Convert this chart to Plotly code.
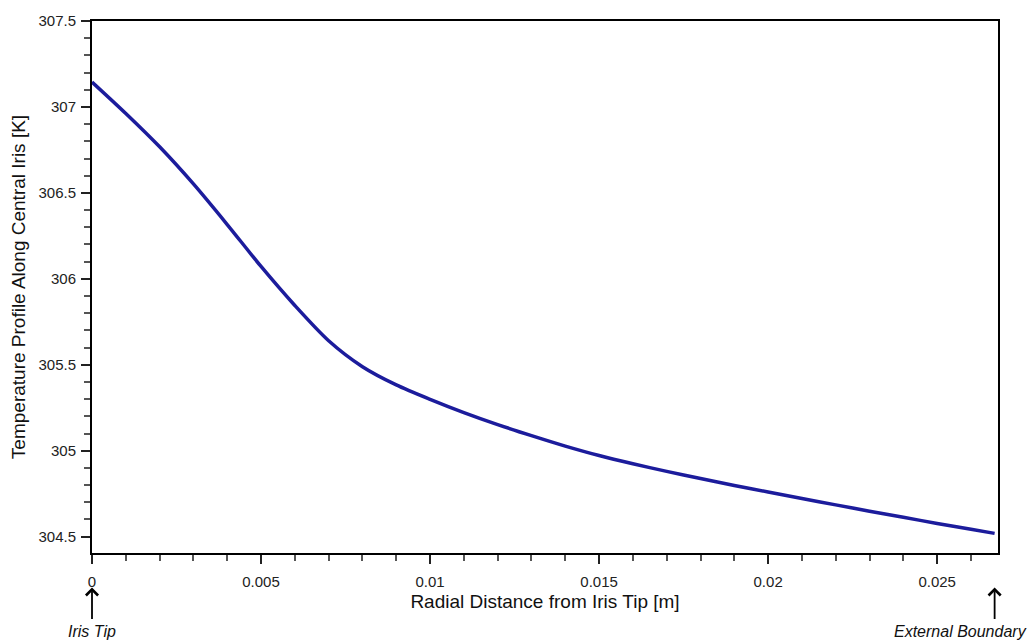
import plotly.graph_objects as go

# Radial position along the central iris [m] and temperature there [K]
radial_distance = [0.0, 0.001, 0.002, 0.003, 0.004, 0.005, 0.006, 0.007, 0.008,
                   0.009, 0.010, 0.011, 0.012, 0.013, 0.014, 0.015, 0.016, 0.017,
                   0.018, 0.019, 0.020, 0.021, 0.022, 0.023, 0.024, 0.025, 0.026,
                   0.0267]
temperature = [307.145, 306.962, 306.768, 306.552, 306.316, 306.072, 305.845, 305.640,
               305.489, 305.383, 305.299, 305.222, 305.152, 305.088, 305.027, 304.972,
               304.924, 304.880, 304.838, 304.798, 304.760, 304.722, 304.685, 304.648,
               304.613, 304.577, 304.543, 304.519]

x_tick_vals = [0, 0.005, 0.01, 0.015, 0.02, 0.025]
x_tick_text = ["0", "0.005", "0.01", "0.015", "0.02", "0.025"]
y_tick_vals = [304.5, 305, 305.5, 306, 306.5, 307, 307.5]
y_tick_text = ["304.5", "305", "305.5", "306", "306.5", "307", "307.5"]

x_range = [0, 0.0268]
y_range = [304.405, 307.5]

FONT = "Liberation Sans, Arial, Helvetica, sans-serif"

fig = go.Figure()
fig.add_trace(go.Scatter(
    x=radial_distance, y=temperature, mode="lines",
    line=dict(color="#1c1c9c", width=3.5, shape="spline", smoothing=0.8),
    showlegend=False, hoverinfo="x+y",
))

axis_common = dict(
    showline=True, linecolor="black", linewidth=2, mirror=True,
    showgrid=False, zeroline=False,
    ticks="outside", ticklen=9, tickwidth=2, tickcolor="#222",
    tickfont=dict(family=FONT, size=15, color="#222"),
)

fig.update_xaxes(
    range=x_range, tickvals=x_tick_vals, ticktext=x_tick_text,
    minor=dict(ticks="outside", ticklen=6, tickwidth=1.5, tickcolor="#555", dtick=0.001),
    title=dict(text="Radial Distance from Iris Tip [m]",
               font=dict(family=FONT, size=19, color="#111"), standoff=6),
    ticklabelstandoff=5,
    **axis_common,
)
fig.update_yaxes(
    range=y_range, tickvals=y_tick_vals, ticktext=y_tick_text,
    minor=dict(ticks="outside", ticklen=6, tickwidth=1.5, tickcolor="#555", dtick=0.1),
    title=dict(text="Temperature Profile Along Central Iris [K]",
               font=dict(family=FONT, size=19, color="#111"), standoff=8),
    ticklabelstandoff=2,
    **axis_common,
)

# Arrows marking the two ends of the radial path
for xv in (x_range[0], radial_distance[-1]):
    fig.add_annotation(
        x=xv, xref="x", y=-0.065, yref="paper", text="",
        showarrow=True, arrowhead=4, arrowsize=1.3, arrowwidth=1.8,
        arrowcolor="black", ax=0, ay=33, standoff=0,
    )

fig.add_annotation(
    x=x_range[0], xref="x", y=-0.147, yref="paper", yanchor="middle",
    text="<i>Iris Tip</i>", showarrow=False,
    font=dict(family=FONT, size=16, color="#111"),
)
fig.add_annotation(
    x=1.034, xref="paper", xanchor="right", y=-0.147, yref="paper", yanchor="middle",
    text="<i>External Boundary</i>", showarrow=False,
    font=dict(family=FONT, size=16, color="#111"),
)

fig.update_layout(
    width=1030, height=641,
    margin=dict(l=92, r=32, t=15, b=88),
    paper_bgcolor="white", plot_bgcolor="white",
    font=dict(family=FONT, color="#111"),
)

fig.write_html("out.html")
